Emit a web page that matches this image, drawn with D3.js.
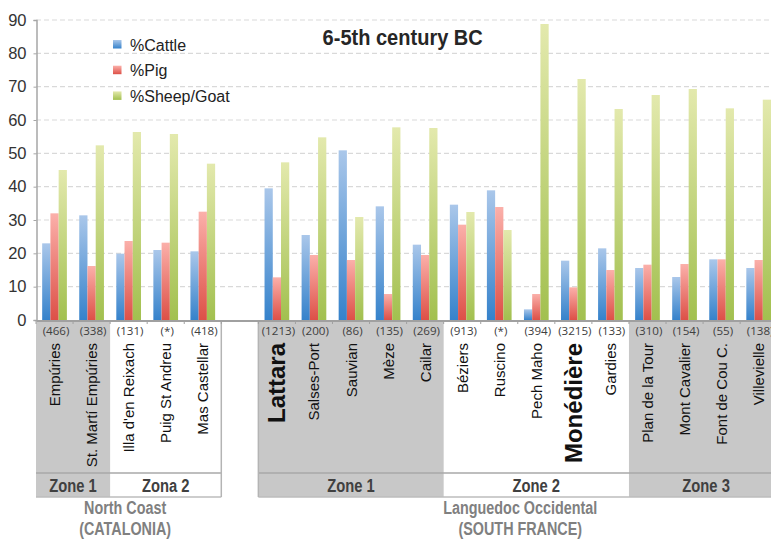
<!DOCTYPE html>
<html>
<head>
<meta charset="utf-8">
<script src="https://cdn.jsdelivr.net/npm/d3@7"></script>
<style>
  html, body { margin: 0; padding: 0; background: #fff; overflow: hidden; }
  svg { display: block; font-family: "Liberation Sans", Arial, sans-serif; }
</style>
</head>
<body>
<svg id="chart" width="771" height="540"></svg>
<script>
// ---- data ----
const categories = ["Empúries","St. Martí Empúries","Illa d'en Reixach","Puig St Andreu","Mas Castellar","",
  "Lattara","Salses-Port","Sauvian","Mèze","Cailar","Béziers","Ruscino","Pech Maho","Monédière","Gardies",
  "Plan de la Tour","Mont Cavalier","Font de Cou C.","Villevielle"];
const sampleSizes = ["(466)","(338)","(131)","(*)","(418)","",
  "(1213)","(200)","(86)","(135)","(269)","(913)","(*)","(394)","(3215)","(133)",
  "(310)","(154)","(55)","(138)"];
const cattle = [23.0,31.4,19.9,21.0,20.6,null,39.5,25.5,50.9,34.1,22.6,34.6,38.9,3.2,17.8,21.5,15.6,12.9,18.2,15.6];
const pig    = [32.0,16.2,23.7,23.2,32.5,null,12.8,19.5,18.0,7.8,19.5,28.6,33.9,7.8,9.8,15.0,16.6,16.8,18.2,18.0];
const sheep  = [45.0,52.4,56.4,55.8,46.9,null,47.3,54.8,30.9,57.8,57.6,32.4,27.0,88.8,72.3,63.3,67.5,69.3,63.5,66.1];
const seriesNames = ["%Cattle","%Pig","%Sheep/Goat"];
const boldSites = ["Lattara","Monédière"];
const yTicks = [0,10,20,30,40,50,60,70,80,90];
const zones = [
  {label:"Zone 1", from:0, to:1, shaded:true},
  {label:"Zona 2", from:2, to:4, shaded:false},
  {label:"Zone 1", from:6, to:10, shaded:true},
  {label:"Zone 2", from:11, to:15, shaded:false},
  {label:"Zone 3", from:16, to:19, shaded:true}
];
const regions = [
  {lines:["North Coast","(CATALONIA)"], from:0, to:4},
  {lines:["Languedoc Occidental","(SOUTH FRANCE)"], from:6, to:19}
];
const title = "6-5th century BC";

// ---- layout ----
const svg = d3.select("#chart");
const keys = categories.map((c,i)=>i);
const x0 = 36, slotW = 37.06;
const x = d3.scaleBand().domain(keys).range([x0, x0 + slotW*keys.length]).padding(0);
const xs = d3.scaleBand().domain([0,1,2]).range([0, x.bandwidth()]).paddingInner(0).paddingOuter(0.75);
const y = d3.scaleLinear().domain([0,90]).range([320,20]);
const W = 771;

const defs = svg.append("defs");
const grads = [["#aac7ea","#3582cb"],["#fbb0aa","#dd5047"],["#e3e9ad","#a2c04f"]];
grads.forEach((g,i)=>{
  const lg = defs.append("linearGradient").attr("id","g"+i).attr("x1",0).attr("y1",0).attr("x2",0).attr("y2",1);
  lg.append("stop").attr("offset","0%").attr("stop-color",g[0]);
  lg.append("stop").attr("offset","100%").attr("stop-color",g[1]);
});

function condense(sel, factor){
  sel.each(function(){
    const len = this.getComputedTextLength();
    d3.select(this).attr("textLength", len*factor).attr("lengthAdjust","spacingAndGlyphs");
  });
}

// gridlines
svg.append("g").selectAll("line").data(yTicks.filter(t=>t>0)).join("line")
  .attr("x1", x0).attr("x2", W).attr("y1", d=>y(d)).attr("y2", d=>y(d))
  .attr("stroke","#d9d9d9").attr("stroke-width",1.2).attr("stroke-dasharray","5,3");

// y axis
const yAxis = svg.append("g").attr("transform",`translate(${x0+0.5},0)`)
  .call(d3.axisLeft(y).tickValues(yTicks).tickSize(3).tickPadding(7));
yAxis.select(".domain").attr("stroke","#a6a6a6").attr("stroke-width",1.5);
yAxis.selectAll(".tick line").attr("stroke","#a6a6a6");
yAxis.selectAll(".tick text").attr("font-family","'Liberation Sans', Arial, sans-serif")
  .attr("font-size",16.5).attr("fill","#333");

// table cells
const tableTop = 321.5, nameBottom = 473, tableBottom = 497;
const tg = svg.append("g");
tg.selectAll("rect.zone").data(zones.filter(z=>z.shaded)).join("rect")
  .attr("x", z=>x(z.from)).attr("y", tableTop)
  .attr("width", z=>x(z.to)+x.bandwidth()-x(z.from)).attr("height", tableBottom-tableTop)
  .attr("fill","#c8c8c8");
regions.forEach(r=>{
  const a = x(r.from), b = Math.min(x(r.to)+x.bandwidth(), 900);
  tg.append("line").attr("x1",a).attr("x2",b).attr("y1",nameBottom).attr("y2",nameBottom)
    .attr("stroke","#a8a8a8").attr("stroke-width",1.5);
  tg.append("line").attr("x1",a).attr("x2",b).attr("y1",tableBottom).attr("y2",tableBottom)
    .attr("stroke","#bdbdbd").attr("stroke-width",1.5);
});
// vertical borders beside the gap
[x(4)+x.bandwidth(), x(6)].forEach(vx=>{
  tg.append("line").attr("x1",vx).attr("x2",vx).attr("y1",tableTop).attr("y2",tableBottom)
    .attr("stroke","#b4b4b4").attr("stroke-width",1.5);
});

// bars
const seriesVals = [cattle, pig, sheep];
const bg = svg.append("g");
seriesVals.forEach((vals,si)=>{
  bg.selectAll("rect.s"+si).data(vals.map((v,i)=>({v,i})).filter(d=>d.v!=null)).join("rect")
    .attr("class","s"+si)
    .attr("x", d=>x(d.i)+xs(si)).attr("width", xs.bandwidth())
    .attr("y", d=>y(d.v)).attr("height", d=>y(0)-y(d.v))
    .attr("fill",`url(#g${si})`);
});

// x axis line
const xAxis = svg.append("g").attr("transform","translate(0,320.5)")
  .call(d3.axisBottom(x).tickSize(0).tickFormat(""));
xAxis.select(".domain").attr("stroke","#a0a0a0").attr("stroke-width",2);
svg.append("g").selectAll("line").data(d3.range(keys.length+1)).join("line")
  .attr("x1", i=>x0+i*slotW).attr("x2", i=>x0+i*slotW).attr("y1",320).attr("y2",324)
  .attr("stroke","#a0a0a0").attr("stroke-width",1);

// sample sizes
svg.append("g").selectAll("text").data(sampleSizes.map((s,i)=>({s,i})).filter(d=>d.s)).join("text")
  .attr("x", d=>x(d.i)+x.bandwidth()/2 + 1.5).attr("y",335)
  .attr("text-anchor","middle").attr("font-family","'Open Sans', sans-serif")
  .attr("font-size",11.6).attr("fill","#404040").text(d=>d.s);

// site names (rotated)
svg.append("g").selectAll("text").data(categories.map((c,i)=>({c,i})).filter(d=>d.c)).join("text")
  .attr("transform", d=>{
    const bold = boldSites.includes(d.c);
    return `translate(${x(d.i)+x.bandwidth()/2 + (bold?8.5:5.5)},343) rotate(-90)`;
  })
  .attr("text-anchor","end")
  .attr("font-size", d=>boldSites.includes(d.c)?24:15)
  .attr("font-weight", d=>boldSites.includes(d.c)?"bold":"normal")
  .attr("fill","#111").text(d=>d.c);

// zone labels
svg.append("g").selectAll("text").data(zones).join("text")
  .attr("x", z=>(x(z.from)+x(z.to)+x.bandwidth())/2 + (z.from===16?3:0)).attr("y",491.5)
  .attr("text-anchor","middle").attr("font-size",18).attr("font-weight","bold")
  .attr("fill","#404040").text(z=>z.label)
  .call(condense, 0.82);

// region labels
regions.forEach((r,ri)=>{
  const cx = (x(r.from)+x(r.to)+x.bandwidth())/2 + (ri===0?-3.5:2.5);
  svg.append("g").selectAll("text").data(r.lines).join("text")
    .attr("x", cx).attr("y",(d,i)=>514+i*21)
    .attr("text-anchor","middle").attr("font-size",17.5).attr("font-weight","bold")
    .attr("fill","#808080").text(d=>d)
    .call(condense, 0.82);
});

// title
svg.append("text").attr("x",402.7).attr("y",45).attr("text-anchor","middle")
  .attr("font-size",22).attr("font-weight","bold").attr("fill","#262626").text(title)
  .call(condense, 0.91);

// legend
const lg = svg.append("g");
seriesNames.forEach((n,i)=>{
  lg.append("rect").attr("x",113).attr("y",40+i*25.7).attr("width",8.5).attr("height",8.5)
    .attr("fill",`url(#g${i})`);
  lg.append("text").attr("x",130).attr("y",50.7+i*25.5).attr("font-size",16)
    .attr("fill","#222").text(n);
});
</script>
</body>
</html>
